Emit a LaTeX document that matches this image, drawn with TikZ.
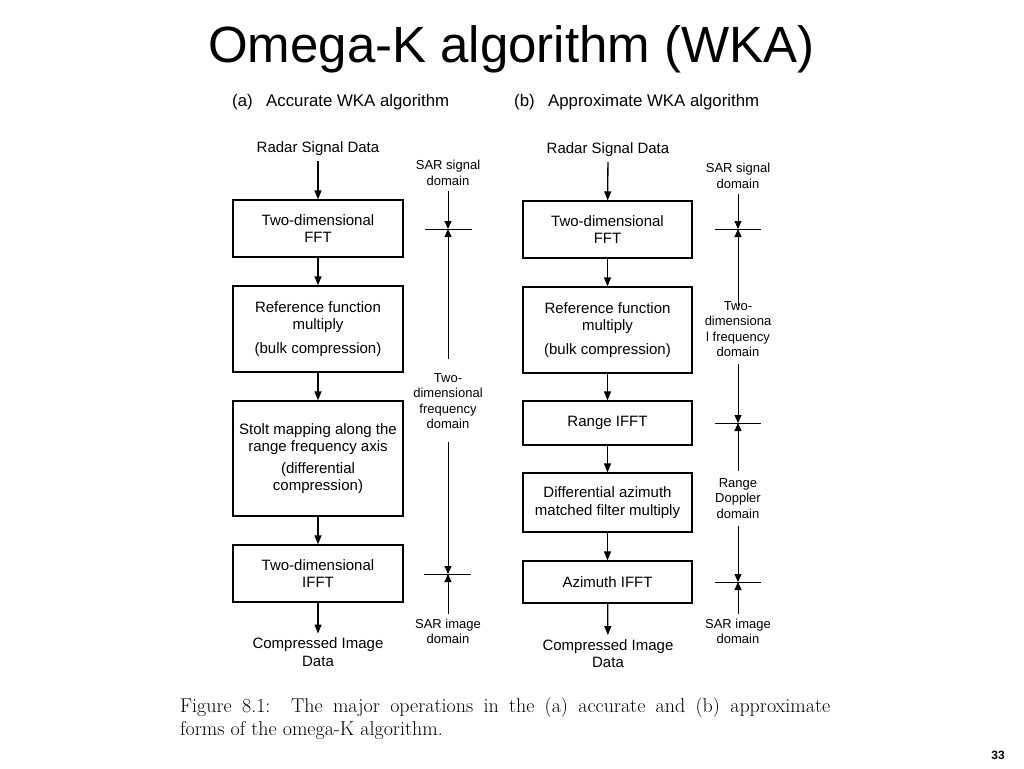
\documentclass[tikz,border=0pt]{standalone}
\usepackage{fontspec}
\setsansfont{Liberation Sans}
\usetikzlibrary{arrows.meta}
\begin{document}
\begin{tikzpicture}[x=1pt,y=-1pt,
  box/.style={draw, line width=1.3pt, align=center, inner sep=0pt, font=\sffamily\fontsize{15}{17.5}\selectfont},
  io/.style={align=center, inner sep=1pt, font=\sffamily\fontsize{15}{17.5}\selectfont},
  dom/.style={align=center, inner sep=1pt, font=\sffamily\fontsize{13}{15.5}\selectfont},
  hdr/.style={anchor=base west, inner sep=0pt, font=\sffamily\fontsize{16.8}{19}\selectfont},
  flow/.style={line width=1.3pt, -{Triangle[length=9pt,width=7pt]}},
  darr/.style={line width=1pt, -{Triangle[length=8pt,width=7pt]}},
  tick/.style={line width=1pt}]
\useasboundingbox (0,0) rectangle (1024,768);
\fill[white] (0,0) rectangle (1024,768);
% title
\node[anchor=base west, inner sep=0pt, font=\sffamily\fontsize{51}{60}\selectfont] (title) at (208,63) {Omega-K algorithm (WKA)};
% headers
\node[hdr] (ha) at (232,106) {(a)\hspace{0.8em}Accurate WKA algorithm};
\node[hdr] (hb) at (514,106) {(b)\hspace{0.8em}Approximate WKA algorithm};
% ---------- left column ----------
\node[io] (ain) at (318,149) {Radar Signal Data};
\node[box, minimum width=170pt, minimum height=57pt] (a1) at (318,228.5) {Two-dimensional\\FFT};
\node[box, minimum width=170pt, minimum height=86pt] (a2) at (318,329) {Reference function\\multiply\\[6pt](bulk compression)};
\node[box, minimum width=170pt, minimum height=115pt] (a3) at (318,458.5) {Stolt mapping along the\\range frequency axis\\[4pt](differential\\compression)};
\node[box, minimum width=170pt, minimum height=57pt] (a4) at (318,573.5) {Two-dimensional\\IFFT};
\node[io] (aout) at (318,652) {Compressed Image\\Data};
\draw[flow, shorten <=4pt] (ain) -- (a1);
\draw[flow] (a1) -- (a2);
\draw[flow] (a2) -- (a3);
\draw[flow] (a3) -- (a4);
\draw[flow, shorten >=3pt] (a4) -- (aout);
% left domains
\node[dom] (ad1) at (448,173) {SAR signal\\domain};
\node[dom] (ad2) at (448,401) {Two-\\dimensional\\frequency\\domain};
\node[dom] (ad3) at (448,631.5) {SAR image\\domain};
\coordinate (at1) at (448,229);
\coordinate (at2) at (448,574);
\draw[tick] (425,229) -- (472,229);
\draw[tick] (424,574) -- (471,574);
\draw[darr, shorten <=4pt] (ad1) -- (at1);
\draw[darr, shorten <=13pt] (ad2) -- (at1);
\draw[darr, shorten <=12pt] (ad2) -- (at2);
\draw[darr, shorten <=4pt] (ad3) -- (at2);
% ---------- right column ----------
\node[io] (bin) at (608,150) {Radar Signal Data};
\node[box, minimum width=169pt, minimum height=57pt] (b1) at (607.5,229.5) {Two-dimensional\\FFT};
\node[box, minimum width=169pt, minimum height=86pt] (b2) at (607.5,330) {Reference function\\multiply\\[6pt](bulk compression)};
\node[box, minimum width=169pt, minimum height=44pt] (b3) at (607.5,423) {Range IFFT};
\node[box, minimum width=169pt, minimum height=59pt] (b4) at (607.5,502.5) {Differential azimuth\\matched filter multiply};
\node[box, minimum width=169pt, minimum height=42pt] (b5) at (607.5,582) {Azimuth IFFT};
\node[io] (bout) at (608,653.5) {Compressed Image\\Data};
\draw[flow, shorten <=4pt] (bin) -- (b1);
\draw[flow] (b1) -- (b2);
\draw[flow] (b2) -- (b3);
\draw[flow] (b3) -- (b4);
\draw[flow] (b4) -- (b5);
\draw[flow, shorten >=3pt] (b5) -- (bout);
% right domains
\node[dom] (bd1) at (738,176) {SAR signal\\domain};
\node[dom] (bd2) at (738,329) {Two-\\dimensiona\\l frequency\\domain};
\node[dom] (bd3) at (738,498.5) {Range\\Doppler\\domain};
\node[dom] (bd4) at (738,631.5) {SAR image\\domain};
\coordinate (bt1) at (738,229);
\coordinate (bt2) at (738,423);
\coordinate (bt3) at (738,582);
\draw[tick] (715,229) -- (761,229);
\draw[tick] (715,423) -- (761,423);
\draw[tick] (715,582) -- (761,582);
\draw[darr, shorten <=4pt] (bd1) -- (bt1);
\draw[darr, shorten <=-6pt] (bd2) -- (bt1);
\draw[darr, shorten <=6pt] (bd2) -- (bt2);
\draw[darr, shorten <=6pt] (bd3) -- (bt2);
\draw[darr, shorten <=6pt] (bd3) -- (bt3);
\draw[darr, shorten <=4pt] (bd4) -- (bt3);
% caption
\node[anchor=base west, inner sep=0pt, font=\rmfamily\fontsize{20}{24}\selectfont] (cap1) at (180,712) {\makebox[650pt][s]{Figure 8.1:\ \ The major operations in the (a) accurate and (b) approximate}};
\node[anchor=base west, inner sep=0pt, font=\rmfamily\fontsize{20}{24}\selectfont] (cap2) at (180,735) {forms of the omega-K algorithm.};
% page number
\node[anchor=base east, inner sep=0pt, font=\sffamily\bfseries\fontsize{12}{14}\selectfont] (pg) at (1005,759) {33};
\end{tikzpicture}
\end{document}
